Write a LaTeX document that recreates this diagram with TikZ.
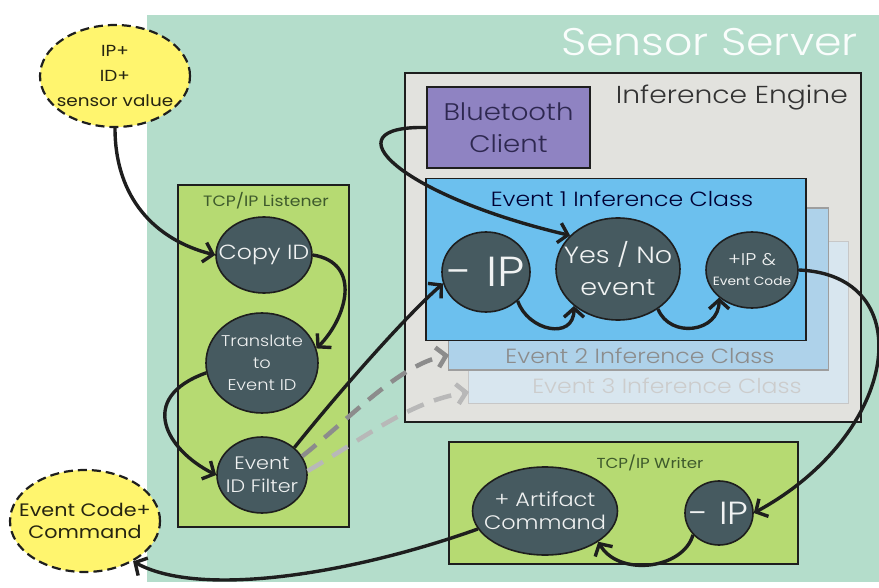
\documentclass[tikz,border=0pt]{standalone}
\usepackage{fontspec}
\setmainfont{Poppins Light}[FakeStretch=1.15]
\newfontfamily\regfont{Poppins}[FakeStretch=1.15]
\usetikzlibrary{arrows.meta,shapes.geometric}
\definecolor{ServerGreen}{HTML}{B4DDCB}
\definecolor{BoxLime}{HTML}{B6DA72}
\definecolor{EngineGray}{HTML}{E2E2DE}
\definecolor{ClientPurple}{HTML}{8F83C2}
\definecolor{EventBlue}{HTML}{6CC0EE}
\definecolor{EventBlueII}{HTML}{AED2EA}
\definecolor{EventBlueIII}{HTML}{D8E6EF}
\definecolor{NodeSlate}{HTML}{465A60}
\definecolor{MsgYellow}{HTML}{FFF56E}
\definecolor{LineDark}{HTML}{1E1E1E}
\definecolor{LabelGreen}{HTML}{3E5A2C}
\definecolor{LabelPurple}{HTML}{2E2850}
\newcommand{\txtsz}[2]{\fontsize{#1}{#2}\selectfont}

\tikzset{
  box/.style={rectangle,draw=LineDark,line width=1.6pt,inner sep=0pt},
  proc/.style={ellipse,draw=LineDark,line width=1.6pt,fill=NodeSlate,
    inner sep=-30pt,align=center,text=white!92!NodeSlate},
  msg/.style={ellipse,draw=LineDark,line width=2.2pt,dash pattern=on 9pt off 5pt,
    fill=MsgYellow,inner sep=-30pt,align=center,text=black!85!MsgYellow},
  flow/.style={draw=LineDark,line width=3.4pt,-{Straight Barb[length=9pt,width=20pt]}},
  ghost/.style={line width=4.5pt,dash pattern=on 18pt off 11pt,
    -{Straight Barb[length=9pt,width=20pt]}},
}

\begin{document}
\begin{tikzpicture}[x=1pt,y=-1pt]
  \useasboundingbox (0,0) rectangle (879,588);

  % server background
  \node[rectangle,fill=ServerGreen,inner sep=0pt,minimum width=732pt,minimum height=567pt] (server) at (513,298.5) {};
  \node[anchor=base east,inner sep=0pt,text=white!94!ServerGreen,font=\txtsz{38.5pt}{40pt}] (serverlbl) at (858,56) {Sensor Server};

  % boxes
  \node[box,fill=BoxLime,minimum width=171pt,minimum height=342pt] (listener) at (263.5,356) {};
  \node[anchor=base,inner sep=0pt,text=LabelGreen,font=\regfont\txtsz{15pt}{16pt}] (listenerlbl) at (266,207) {TCP/IP Listener};

  \node[box,fill=EngineGray,minimum width=456pt,minimum height=349pt] (engine) at (633,247.5) {};
  \node[anchor=base east,inner sep=0pt,text=black!80,font=\txtsz{24.5pt}{26pt}] (enginelbl) at (848,104) {Inference Engine};

  \node[box,fill=ClientPurple,minimum width=163pt,minimum height=81pt,align=center,text=LabelPurple,font=\txtsz{24pt}{32pt}] (bluetooth) at (508.5,127.5)
    {Bluetooth\\Client};

  \node[box,fill=BoxLime,minimum width=349pt,minimum height=122pt] (writer) at (623.5,503) {};
  \node[anchor=base,inner sep=0pt,text=LabelGreen,font=\regfont\txtsz{14.5pt}{16pt}] (writerlbl) at (650,468) {TCP/IP Writer};

  % event classes, back to front
  \foreach \nm/\cx/\cy/\fc/\dc/\tc/\lx/\ly/\num in {
      ev3/658.5/322.5/EventBlueIII/black!22/black!20/667/393/3,
      ev2/638.5/289/EventBlueII/black!38/black!45/640/363/2,
      ev1/616/259.5/EventBlue/LineDark/black!80!blue/622/207/1} {
    \node[box,fill=\fc,draw=\dc,minimum width=380pt,minimum height=162pt] (\nm) at (\cx,\cy) {};
    \node[anchor=base,inner sep=0pt,text=\tc,font=\txtsz{20.5pt}{22pt}] (\nm lbl) at (\lx,\ly) {Event \num\ Inference Class};
  }
  \coordinate (ev2in) at (449,355);
  \coordinate (ev3in) at (469,392);

  % messages
  \node[msg,minimum width=150pt,minimum height=102pt,font=\regfont\txtsz{16pt}{25pt}] (sensorMsg) at (115,76)
    {IP+\\ID+\\sensor value};
  \node[msg,minimum width=150pt,minimum height=102pt,font=\regfont\txtsz{18pt}{22pt}] (cmdMsg) at (85,521)
    {Event Code+\\Command};

  % processing steps
  \node[proc,minimum width=96pt,minimum height=76pt,font=\txtsz{20.5pt}{24pt}] (copyid) at (264,255) {Copy ID};
  \node[proc,minimum width=112pt,minimum height=100pt,font=\txtsz{15.5pt}{22pt}] (translate) at (262,363) {Translate\\to\\Event ID};
  \node[proc,minimum width=90pt,minimum height=76pt,font=\txtsz{18pt}{23pt}] (filter) at (262,475) {Event\\ID Filter};
  \node[proc,minimum width=88pt,minimum height=80pt,font=\txtsz{42pt}{44pt}] (minusip) at (486,272) {- IP};
  \node[proc,minimum width=124pt,minimum height=102pt,font=\txtsz{23.5pt}{32pt}] (yesno) at (618,269) {Yes / No\\event};
  \node[proc,minimum width=92pt,minimum height=76pt,font=\txtsz{17pt}{20pt}] (plusip) at (752,270)
    {+IP \&\\\regfont\txtsz{12pt}{14pt}Event Code};
  \node[proc,minimum width=145pt,minimum height=88pt,font=\txtsz{19.5pt}{23pt}] (artifact) at (545,511) {+ Artifact\\Command};
  \node[proc,minimum width=68pt,minimum height=64pt,font=\txtsz{32pt}{34pt}] (wminusip) at (719,513) {- IP};

  % connectors
  \draw[flow] (sensorMsg.south) .. controls +(0,70) and +(-60,-15) .. (copyid.west);
  \draw[flow] (copyid.east) .. controls +(50,8) and +(30,-30) .. (translate.15);
  \draw[flow] (translate.190) .. controls +(-70,25) and +(-50,-25) .. (filter.west);
  \draw[flow] (filter.north east) .. controls +(40,-50) and +(-40,35) .. (minusip.195);
  \draw[ghost,draw=black!45] (filter.25) .. controls +(50,-40) and +(-50,10) .. (ev2in);
  \draw[ghost,draw=black!28] (filter.5) .. controls +(60,-35) and +(-60,10) .. (ev3in);
  \draw[flow] (bluetooth.west) .. controls +(-100,-2) and +(-170,-40) .. (yesno.145);
  \draw[flow] (minusip.south east) .. controls +(10,30) and +(0,35) .. (yesno.220);
  \draw[flow] (yesno.315) .. controls +(12,30) and +(0,35) .. (plusip.220);
  \draw[flow] (plusip.east) .. controls +(122,5) and +(147,-80) .. (wminusip.east);
  \draw[flow] (wminusip.220) .. controls +(-10,35) and +(20,35) .. (artifact.330);
  \draw[flow] (artifact.195) .. controls +(-126,45) and +(67,37) .. (cmdMsg.320);
\end{tikzpicture}
\end{document}
